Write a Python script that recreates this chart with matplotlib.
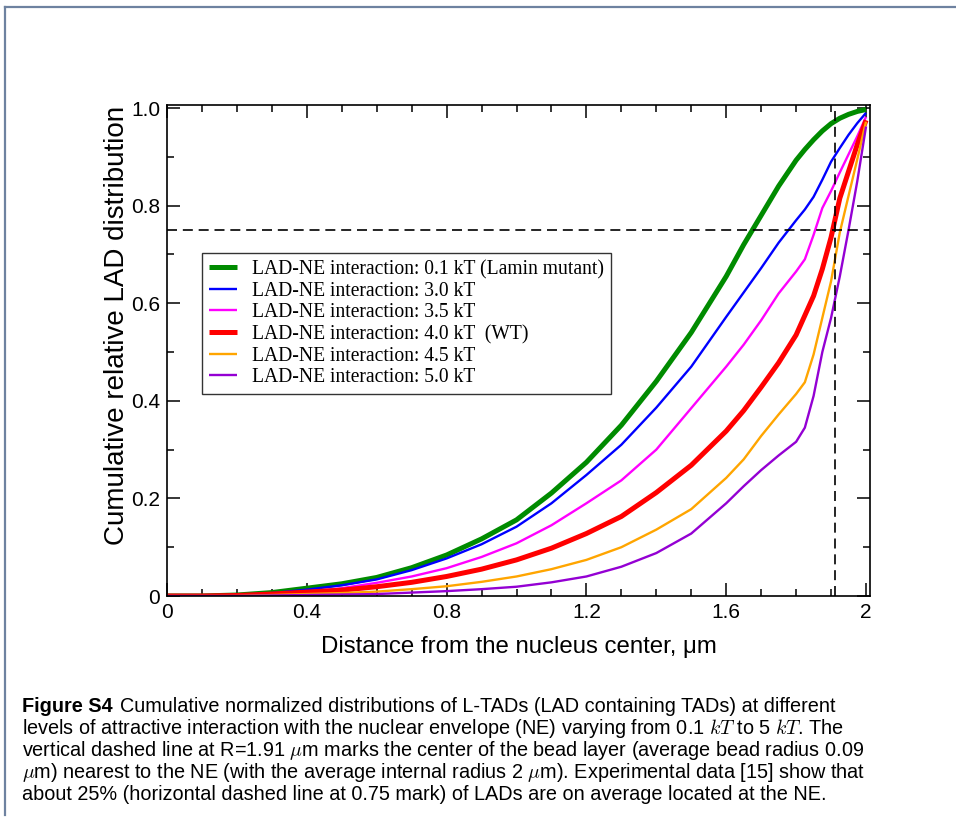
import numpy as np
import matplotlib
matplotlib.use('Agg')
import matplotlib.pyplot as plt
from matplotlib.lines import Line2D

plt.rcParams['mathtext.fontset'] = 'cm'

# distance from nucleus center (um)
dist = [0.0, 0.1, 0.2, 0.3, 0.4, 0.5, 0.6, 0.7, 0.8, 0.9, 1.0, 1.1, 1.2, 1.3, 1.4,
        1.5, 1.6, 1.65, 1.7, 1.75, 1.8, 1.825, 1.85, 1.875, 1.9, 1.925, 1.95, 1.975, 2.0]

cum_01 = [0.0, 0.0, 0.002, 0.007, 0.016, 0.025, 0.038, 0.058, 0.084, 0.117, 0.156, 0.211, 0.274, 0.35, 0.44,
          0.54, 0.655, 0.72, 0.78, 0.84, 0.893, 0.915, 0.935, 0.953, 0.968, 0.979, 0.987, 0.993, 0.997]
cum_30 = [0.0, 0.0, 0.002, 0.006, 0.013, 0.022, 0.034, 0.053, 0.077, 0.106, 0.142, 0.19, 0.248, 0.31, 0.386,
          0.47, 0.572, 0.622, 0.672, 0.724, 0.77, 0.792, 0.818, 0.853, 0.89, 0.918, 0.945, 0.969, 0.99]
cum_35 = [0.0, 0.0, 0.001, 0.004, 0.009, 0.016, 0.027, 0.04, 0.057, 0.08, 0.108, 0.145, 0.19, 0.237, 0.30,
          0.385, 0.47, 0.515, 0.565, 0.62, 0.665, 0.69, 0.74, 0.795, 0.83, 0.868, 0.905, 0.942, 0.982]
cum_40 = [0.0, 0.0, 0.001, 0.004, 0.008, 0.012, 0.019, 0.028, 0.040, 0.055, 0.074, 0.098, 0.128, 0.163, 0.212,
          0.268, 0.338, 0.38, 0.428, 0.478, 0.535, 0.575, 0.615, 0.67, 0.735, 0.815, 0.87, 0.925, 0.975]
cum_45 = [0.0, 0.0, 0.0, 0.002, 0.004, 0.006, 0.009, 0.014, 0.020, 0.029, 0.040, 0.055, 0.074, 0.10, 0.136,
          0.178, 0.242, 0.28, 0.328, 0.372, 0.414, 0.438, 0.495, 0.57, 0.645, 0.745, 0.82, 0.895, 0.972]
cum_50 = [0.0, 0.0, 0.0, 0.001, 0.002, 0.003, 0.004, 0.007, 0.010, 0.014, 0.019, 0.028, 0.040, 0.06, 0.088,
          0.128, 0.19, 0.225, 0.258, 0.288, 0.316, 0.345, 0.41, 0.50, 0.57, 0.655, 0.75, 0.85, 0.962]

labels = ['LAD-NE interaction: 0.1 kT (Lamin mutant)',
          'LAD-NE interaction: 3.0 kT',
          'LAD-NE interaction: 3.5 kT',
          'LAD-NE interaction: 4.0 kT  (WT)',
          'LAD-NE interaction: 4.5 kT',
          'LAD-NE interaction: 5.0 kT']
colors = ['#008b00', '#0000ff', '#ff00ff', '#ff0000', '#ffa500', '#9400d3']
widths = [3.6, 1.7, 1.7, 3.6, 1.7, 1.7]
series = [cum_01, cum_30, cum_35, cum_40, cum_45, cum_50]

r_layer = 1.91
frac_ne = 0.75

W, H = 956, 826
fig = plt.figure(figsize=(W / 100, H / 100), dpi=100)

# page frame (top and left border of the screenshot)
fig.add_artist(Line2D([5 / W, 1], [1 - 7 / H, 1 - 7 / H], color='#6e82a0', lw=1.6))
fig.add_artist(Line2D([5 / W, 5 / W], [1 - 7 / H, 1 - 815 / H], color='#6e82a0', lw=1.6))

ax = fig.add_axes([167 / W, (H - 596) / H, (870 - 167) / W, (596 - 104.7) / H])

sans = ['Liberation Sans', 'DejaVu Sans']
serif = ['Liberation Serif', 'DejaVu Serif']

for y, lab, c, lw in zip(series, labels, colors, widths):
    ax.plot(dist, y, color=c, lw=lw, label=lab, solid_capstyle='butt')

ax.axhline(frac_ne, color='black', lw=1.2, ls=(0, (6, 3.5)))
ax.axvline(r_layer, color='black', lw=1.2, ls=(0, (6, 3.5)))

ax.set_xlim(0, 2.0114)
ax.set_ylim(0, 1.0068)

ax.set_xticks([0, 0.4, 0.8, 1.2, 1.6, 2.0])
ax.set_xticklabels(['0', '0.4', '0.8', '1.2', '1.6', '2'], family=sans, fontsize=15)
ax.set_xticks(np.arange(0, 2.01, 0.1), minor=True)
ax.set_yticks([0, 0.2, 0.4, 0.6, 0.8, 1.0])
ax.set_yticklabels(['0', '0.2', '0.4', '0.6', '0.8', '1.0'], family=sans, fontsize=15)
ax.set_yticks(np.arange(0, 1.01, 0.1), minor=True)

ax.tick_params(which='both', direction='in', top=True, right=True, width=1.1, color='black')
ax.tick_params(which='major', length=9.5, pad=5)
ax.tick_params(which='minor', length=5)
for s in ax.spines.values():
    s.set_linewidth(1.2)

ax.set_xlabel('Distance from the nucleus center, \u03bcm', family=sans, fontsize=17.3, labelpad=10)
ax.set_ylabel('Cumulative relative LAD distribution', family=sans, fontsize=20)
ax.yaxis.set_label_coords(-0.052, (596 - 325) / 491.3)

leg = ax.legend(loc='upper left', bbox_to_anchor=(35 / 703, (596 - 253) / 491.3),
                prop={'family': serif, 'size': 14.1}, frameon=True, fancybox=False,
                edgecolor='#333333', framealpha=1, borderpad=0.35, labelspacing=0.13,
                handlelength=1.45, handletextpad=0.75, borderaxespad=0)
leg.get_frame().set_linewidth(1.0)

caption = [
    (r'Cumulative normalized distributions of L-TADs (LAD containing TADs) at different', 706),
    (r'levels of attractive interaction with the nuclear envelope (NE) varying from 0.1 $kT$ to 5 $kT$. The', 728),
    (r'vertical dashed line at R=1.91 $\mu$m marks the center of the bead layer (average bead radius 0.09', 750),
    (r'$\mu$m) nearest to the NE (with the average internal radius 2 $\mu$m). Experimental data [15] show that', 772),
    (r'about 25% (horizontal dashed line at 0.75 mark) of LADs are on average located at the NE.', 794),
]
cap_font = dict(family=sans, fontsize=14.3)
t0 = fig.text(22 / W, 1 - 706 / H, 'Figure S4', fontweight='bold', va='center', ha='left', **cap_font)
fig.canvas.draw()
bb = t0.get_window_extent()
fig.text((bb.x1 + 7) / W, 1 - 706 / H, caption[0][0], va='center', ha='left', **cap_font)
for txt, yy in caption[1:]:
    fig.text(22 / W, 1 - yy / H, txt, va='center', ha='left', **cap_font)

fig.savefig('out.png', dpi=100)
